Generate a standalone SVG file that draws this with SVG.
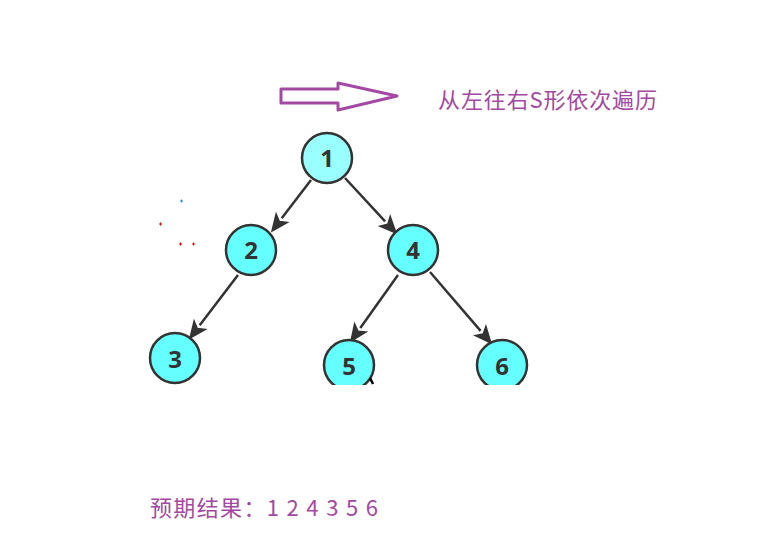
<svg xmlns="http://www.w3.org/2000/svg" width="757" height="550" viewBox="0 0 757 550">
<style>
.node{stroke:#333;stroke-width:2.5}
.lbl{font-family:"Open Sans","DejaVu Sans",sans-serif;font-weight:bold;font-size:24px;fill:#333;text-anchor:middle}
.edge{stroke:#333;stroke-width:2.5;fill:none}
.head{fill:#333;stroke:#333;stroke-width:1.5;stroke-linejoin:miter}
.pt{font-family:"Noto Sans CJK SC",sans-serif;font-size:22px;fill:#a349a4}
</style>
<defs>
<clipPath id="cut"><rect x="0" y="0" width="757" height="385"/></clipPath>
</defs>
<rect width="757" height="550" fill="#fff"/>
<g id="bigarrow">
<path d="M281,89 L338,89 L338,83 L397,96 L338,110 L338,103 L281,103 Z" fill="none" stroke="#a349a4" stroke-width="3" stroke-linejoin="round"/>
</g>
<text id="title" class="pt" x="438" y="108" textLength="219" lengthAdjust="spacing">从左往右S形依次遍历</text>
<g id="connectors">
<line class="edge" x1="311" y1="180" x2="281.7" y2="218.3"/>
<path class="head" d="M272,231 L287.3,222.5 L279.3,221.5 L276.1,214.1 Z"/>
<line class="edge" x1="345" y1="178" x2="385.1" y2="221.3"/>
<path class="head" d="M396,233 L380,226.1 L387.8,224.2 L390.2,216.5 Z"/>
<line class="edge" x1="238" y1="275" x2="199.7" y2="325.3"/>
<path class="head" d="M190,338 L205.3,329.5 L197.3,328.5 L194.1,321.1 Z"/>
<line class="edge" x1="398" y1="275" x2="360.3" y2="328"/>
<path class="head" d="M351,341 L366,332.1 L358,331.2 L354.6,323.9 Z"/>
<line class="edge" x1="430" y1="272" x2="480.6" y2="330.9"/>
<path class="head" d="M491,343 L475.3,335.5 L483.2,333.9 L485.9,326.3 Z"/>
</g>
<g id="n1"><circle class="node" cx="327" cy="158" r="25" fill="#99ffff"/><text class="lbl" x="327" y="167">1</text></g>
<g id="n2"><circle class="node" cx="251" cy="250" r="25" fill="#66ffff"/><text class="lbl" x="251" y="259">2</text></g>
<g id="n4"><circle class="node" cx="413" cy="250" r="25" fill="#66ffff"/><text class="lbl" x="413" y="259">4</text></g>
<g id="n3"><circle class="node" cx="175" cy="358" r="25" fill="#66ffff"/><text class="lbl" x="175" y="368">3</text></g>
<g clip-path="url(#cut)">
<g id="n5"><circle class="node" cx="349" cy="365" r="25" fill="#66ffff"/><text class="lbl" x="349" y="375">5</text></g>
<g id="n6"><circle class="node" cx="502" cy="365" r="25" fill="#66ffff"/><text class="lbl" x="502" y="375">6</text></g>
<path d="M370,378 L373,384" stroke="#000" stroke-width="2.5"/>
</g>
<g id="marks" stroke-width="1">
<path d="M180,201h3M181.5,199.5v3" stroke="#1e90ff"/>
<path d="M159,224h3M160.5,222.5v3" stroke="#e00"/>
<path d="M179,244h3M180.5,242.5v3" stroke="#e00"/>
<path d="M192,244h3M193.5,242.5v3" stroke="#e00"/>
</g>
<text id="result" class="pt" x="150" y="516" textLength="228" lengthAdjust="spacing">预期结果：1 2 4 3 5 6</text>
</svg>
